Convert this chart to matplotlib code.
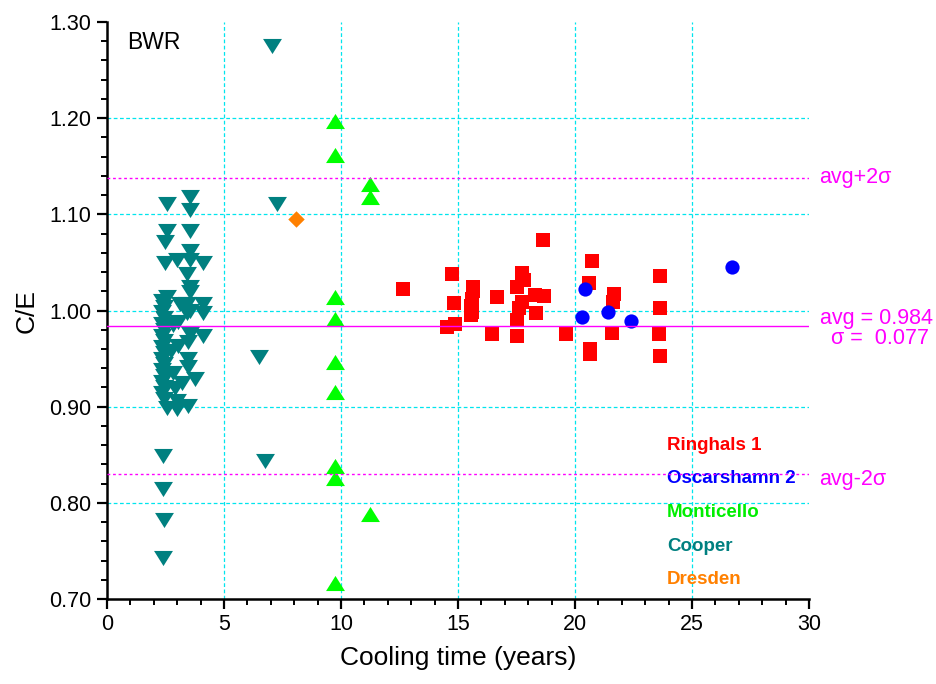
import matplotlib.pyplot as plt
from matplotlib.ticker import MultipleLocator, FormatStrFormatter

plt.rcParams["font.family"] = ["Liberation Sans", "DejaVu Sans"]

# Ringhals 1
ringhals_x = [12.66, 14.73, 14.84, 14.52, 14.87, 15.63, 15.65, 15.58, 15.55, 15.58, 15.55,
              16.65, 16.44, 17.72, 17.82, 17.54, 17.72, 17.62, 17.54, 17.54, 18.65, 18.29,
              18.68, 18.33, 19.62, 20.71, 20.61, 21.68, 21.61, 21.57, 20.64, 20.64, 23.63,
              23.63, 23.60, 23.63]
ringhals_y = [1.022, 1.038, 1.008, 0.983, 0.986, 1.024, 1.020, 1.012, 1.005, 0.998, 0.995,
              1.014, 0.976, 1.039, 1.032, 1.024, 1.009, 1.003, 0.990, 0.973, 1.073, 1.016,
              1.015, 0.997, 0.976, 1.051, 1.029, 1.017, 1.009, 0.977, 0.960, 0.955, 1.036,
              1.003, 0.976, 0.953]

# Oscarshamn 2
oscar_x = [20.43, 20.29, 21.40, 22.38, 26.71]
oscar_y = [1.022, 0.993, 0.998, 0.989, 1.045]

# Monticello
monti_x = [9.74, 9.74, 11.24, 11.24, 9.74, 9.74, 9.74, 9.74, 9.74, 9.74, 11.24, 9.74]
monti_y = [1.197, 1.162, 1.132, 1.118, 1.014, 0.991, 0.946, 0.915, 0.838, 0.826, 0.788, 0.717]

# Cooper
cooper_x = [2.55, 2.55, 2.48, 2.48, 2.55, 2.35, 2.45, 2.35, 2.45, 2.35, 2.45, 2.35, 2.45,
            2.35, 2.45, 2.35, 2.45, 2.35, 2.45, 2.35, 2.45, 2.35, 2.45, 2.56,
            2.40, 2.40, 2.45, 2.40,
            3.55, 3.55, 3.55, 3.55, 2.98, 3.55, 4.12, 3.42, 3.55, 3.55, 3.12, 3.42, 4.12,
            3.55, 3.42, 4.12, 3.03, 3.55, 4.10, 3.46, 3.03, 3.46, 3.46, 3.76, 3.20, 2.90,
            2.99, 3.46, 2.99, 2.80, 2.75, 2.80,
            7.04, 7.25, 6.51, 6.75]
cooper_y = [1.111, 1.083, 1.071, 1.049, 1.014, 1.010, 1.004, 0.998, 0.992, 0.986, 0.980,
            0.974, 0.968, 0.962, 0.956, 0.950, 0.944, 0.938, 0.932, 0.926, 0.920, 0.914,
            0.908, 0.899,
            0.849, 0.814, 0.782, 0.743,
            1.118, 1.105, 1.083, 1.062, 1.052, 1.052, 1.049, 1.038, 1.024, 1.019, 1.007,
            1.007, 1.007, 1.000, 0.997, 0.997, 0.988, 0.976, 0.974, 0.967, 0.963, 0.950,
            0.941, 0.929, 0.925, 0.919, 0.906, 0.901, 0.898, 0.985, 0.958, 0.935,
            1.275, 1.111, 0.952, 0.843]

# Dresden
dresden_x = [8.06]
dresden_y = [1.095]

avg = 0.984
sigma = 0.077

down_tri = [(-1, 0.8), (1, 0.8), (0, -0.8), (-1, 0.8)]
up_tri = [(-1, -0.8), (1, -0.8), (0, 0.8), (-1, -0.8)]

fig = plt.figure(figsize=(9.37, 6.84), dpi=100)
ax = fig.add_axes([0.1142, 0.1243, 0.7492, 0.8435])

ax.set_xlim(0, 30)
ax.set_ylim(0.70, 1.30)

# grid
for gx in [5, 10, 15, 20, 25]:
    ax.axvline(gx, color="#00e5ee", lw=0.9, ls=(0, (3, 2)), zorder=1)
for gy in [0.8, 0.9, 1.0, 1.1, 1.2]:
    ax.axhline(gy, color="#00e5ee", lw=0.9, ls=(0, (3, 2)), zorder=1)

ax.scatter(cooper_x, cooper_y, marker=down_tri, s=185, color="#008080", lw=0, zorder=3)
ax.scatter(monti_x, monti_y, marker=up_tri, s=185, color="#00ff00", lw=0, zorder=3)
ax.scatter(dresden_x, dresden_y, marker="D", s=70, color="#ff8000", lw=0, zorder=3)
ax.scatter(ringhals_x, ringhals_y, marker="s", s=95, color="#ff0000", lw=0, zorder=3)
ax.scatter(oscar_x, oscar_y, marker="o", s=105, color="#0000ff", lw=0, zorder=4)

# average and 2 sigma lines
ax.axhline(avg, color="#ff00ff", lw=1.0, zorder=5)
ax.axhline(avg + 2 * sigma, color="#ff00ff", lw=1.0, ls=(0, (2, 2)), zorder=5)
ax.axhline(avg - 2 * sigma, color="#ff00ff", lw=1.0, ls=(0, (2, 2)), zorder=5)

ax.text(30.45, avg + 2 * sigma, "avg+2\u03c3", color="#ff00ff", fontsize=15.5, va="center")
ax.text(30.45, avg - 2 * sigma - 0.006, "avg-2\u03c3", color="#ff00ff", fontsize=15.5, va="center")
ax.text(30.45, avg + 0.008, "avg = 0.984", color="#ff00ff", fontsize=15.5, va="center")
ax.text(30.95, avg - 0.013, "\u03c3 =  0.077", color="#ff00ff", fontsize=15.5, va="center")

ax.text(0.85, 1.279, "BWR", fontsize=16.5, va="center")

labels = ["Ringhals 1", "Oscarshamn 2", "Monticello", "Cooper", "Dresden"]
colors = ["#ff0000", "#0000ff", "#00ee00", "#008080", "#ff8000"]
label_y = [0.860, 0.825, 0.790, 0.755, 0.720]
for lab, col, ly in zip(labels, colors, label_y):
    ax.text(23.93, ly, lab, color=col, fontsize=13.5, fontweight="bold", va="center")

ax.spines["top"].set_visible(False)
ax.spines["right"].set_visible(False)
ax.spines["left"].set_linewidth(1.8)
ax.spines["bottom"].set_linewidth(1.8)

ax.xaxis.set_major_locator(MultipleLocator(5))
ax.xaxis.set_minor_locator(MultipleLocator(1))
ax.yaxis.set_major_locator(MultipleLocator(0.1))
ax.yaxis.set_minor_locator(MultipleLocator(0.02))
ax.yaxis.set_major_formatter(FormatStrFormatter("%.2f"))
ax.tick_params(which="major", direction="out", length=7, width=1.6, labelsize=15.5, pad=4)
ax.tick_params(which="minor", direction="out", length=4, width=1.4)

ax.set_xlabel("Cooling time (years)", fontsize=19, labelpad=8)
ax.set_ylabel("C/E", fontsize=19, labelpad=8)

fig.savefig("out.png", dpi=100)
